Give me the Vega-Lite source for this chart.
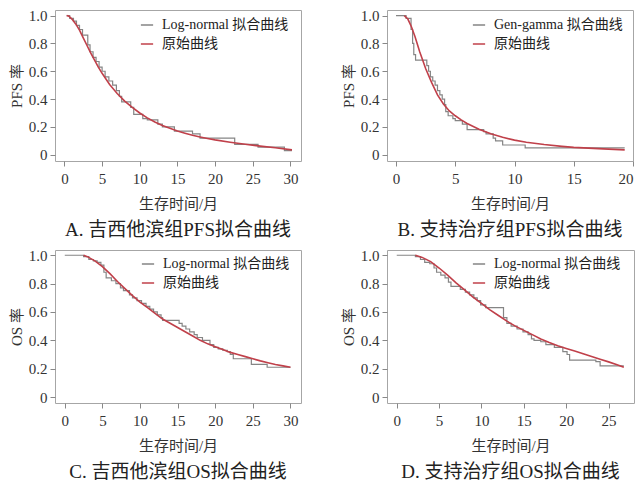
{
  "$schema": "https://vega.github.io/schema/vega-lite/v6.json",
  "padding": {"left": 8, "top": 8, "right": 2, "bottom": 2},
  "background": "white",
  "data": {"name": "d"},
  "datasets": {
    "d": [
      {"p":"A","g":"Log-normal 拟合曲线","t":0.3,"s":1.0},
      {"p":"A","g":"Log-normal 拟合曲线","t":0.7,"s":0.98},
      {"p":"A","g":"Log-normal 拟合曲线","t":1.2,"s":0.96},
      {"p":"A","g":"Log-normal 拟合曲线","t":1.6,"s":0.93},
      {"p":"A","g":"Log-normal 拟合曲线","t":2.0,"s":0.90},
      {"p":"A","g":"Log-normal 拟合曲线","t":2.4,"s":0.86},
      {"p":"A","g":"Log-normal 拟合曲线","t":3.1,"s":0.79},
      {"p":"A","g":"Log-normal 拟合曲线","t":3.4,"s":0.74},
      {"p":"A","g":"Log-normal 拟合曲线","t":3.8,"s":0.70},
      {"p":"A","g":"Log-normal 拟合曲线","t":4.2,"s":0.67},
      {"p":"A","g":"Log-normal 拟合曲线","t":4.6,"s":0.63},
      {"p":"A","g":"Log-normal 拟合曲线","t":5.0,"s":0.60},
      {"p":"A","g":"Log-normal 拟合曲线","t":5.4,"s":0.56},
      {"p":"A","g":"Log-normal 拟合曲线","t":5.9,"s":0.53},
      {"p":"A","g":"Log-normal 拟合曲线","t":6.4,"s":0.50},
      {"p":"A","g":"Log-normal 拟合曲线","t":6.9,"s":0.46},
      {"p":"A","g":"Log-normal 拟合曲线","t":7.3,"s":0.42},
      {"p":"A","g":"Log-normal 拟合曲线","t":7.6,"s":0.38},
      {"p":"A","g":"Log-normal 拟合曲线","t":8.8,"s":0.34},
      {"p":"A","g":"Log-normal 拟合曲线","t":9.2,"s":0.29},
      {"p":"A","g":"Log-normal 拟合曲线","t":10.4,"s":0.26},
      {"p":"A","g":"Log-normal 拟合曲线","t":11.0,"s":0.25},
      {"p":"A","g":"Log-normal 拟合曲线","t":12.4,"s":0.22},
      {"p":"A","g":"Log-normal 拟合曲线","t":13.0,"s":0.20},
      {"p":"A","g":"Log-normal 拟合曲线","t":14.6,"s":0.17},
      {"p":"A","g":"Log-normal 拟合曲线","t":17.0,"s":0.15},
      {"p":"A","g":"Log-normal 拟合曲线","t":18.0,"s":0.12},
      {"p":"A","g":"Log-normal 拟合曲线","t":22.6,"s":0.075},
      {"p":"A","g":"Log-normal 拟合曲线","t":25.7,"s":0.055},
      {"p":"A","g":"Log-normal 拟合曲线","t":29.2,"s":0.03},
      {"p":"A","g":"Log-normal 拟合曲线","t":30.2,"s":0.03},

      {"p":"A","g":"原始曲线","t":0.3,"s":1.0},
      {"p":"A","g":"原始曲线","t":0.6,"s":0.995},
      {"p":"A","g":"原始曲线","t":1.0,"s":0.975},
      {"p":"A","g":"原始曲线","t":1.5,"s":0.94},
      {"p":"A","g":"原始曲线","t":2.0,"s":0.895},
      {"p":"A","g":"原始曲线","t":2.5,"s":0.84},
      {"p":"A","g":"原始曲线","t":3.0,"s":0.785},
      {"p":"A","g":"原始曲线","t":3.5,"s":0.73},
      {"p":"A","g":"原始曲线","t":4.0,"s":0.68},
      {"p":"A","g":"原始曲线","t":4.5,"s":0.63},
      {"p":"A","g":"原始曲线","t":5.0,"s":0.585},
      {"p":"A","g":"原始曲线","t":6.0,"s":0.505},
      {"p":"A","g":"原始曲线","t":7.0,"s":0.44},
      {"p":"A","g":"原始曲线","t":8.0,"s":0.385},
      {"p":"A","g":"原始曲线","t":9.0,"s":0.34},
      {"p":"A","g":"原始曲线","t":10.0,"s":0.30},
      {"p":"A","g":"原始曲线","t":11.0,"s":0.265},
      {"p":"A","g":"原始曲线","t":12.0,"s":0.235},
      {"p":"A","g":"原始曲线","t":13.0,"s":0.21},
      {"p":"A","g":"原始曲线","t":14.0,"s":0.19},
      {"p":"A","g":"原始曲线","t":15.0,"s":0.17},
      {"p":"A","g":"原始曲线","t":16.0,"s":0.155},
      {"p":"A","g":"原始曲线","t":17.0,"s":0.14},
      {"p":"A","g":"原始曲线","t":18.0,"s":0.128},
      {"p":"A","g":"原始曲线","t":19.0,"s":0.117},
      {"p":"A","g":"原始曲线","t":20.0,"s":0.107},
      {"p":"A","g":"原始曲线","t":22.0,"s":0.09},
      {"p":"A","g":"原始曲线","t":24.0,"s":0.075},
      {"p":"A","g":"原始曲线","t":26.0,"s":0.062},
      {"p":"A","g":"原始曲线","t":28.0,"s":0.05},
      {"p":"A","g":"原始曲线","t":30.2,"s":0.035},

      {"p":"B","g":"Gen-gamma 拟合曲线","t":0,"s":1.0},
      {"p":"B","g":"Gen-gamma 拟合曲线","t":0.85,"s":0.98},
      {"p":"B","g":"Gen-gamma 拟合曲线","t":1.27,"s":0.90},
      {"p":"B","g":"Gen-gamma 拟合曲线","t":1.4,"s":0.80},
      {"p":"B","g":"Gen-gamma 拟合曲线","t":1.5,"s":0.72},
      {"p":"B","g":"Gen-gamma 拟合曲线","t":1.65,"s":0.68},
      {"p":"B","g":"Gen-gamma 拟合曲线","t":2.6,"s":0.64},
      {"p":"B","g":"Gen-gamma 拟合曲线","t":2.75,"s":0.60},
      {"p":"B","g":"Gen-gamma 拟合曲线","t":2.9,"s":0.56},
      {"p":"B","g":"Gen-gamma 拟合曲线","t":3.1,"s":0.53},
      {"p":"B","g":"Gen-gamma 拟合曲线","t":3.3,"s":0.50},
      {"p":"B","g":"Gen-gamma 拟合曲线","t":3.5,"s":0.46},
      {"p":"B","g":"Gen-gamma 拟合曲线","t":3.7,"s":0.43},
      {"p":"B","g":"Gen-gamma 拟合曲线","t":3.9,"s":0.40},
      {"p":"B","g":"Gen-gamma 拟合曲线","t":4.1,"s":0.36},
      {"p":"B","g":"Gen-gamma 拟合曲线","t":4.2,"s":0.31},
      {"p":"B","g":"Gen-gamma 拟合曲线","t":4.4,"s":0.28},
      {"p":"B","g":"Gen-gamma 拟合曲线","t":4.8,"s":0.26},
      {"p":"B","g":"Gen-gamma 拟合曲线","t":5.0,"s":0.245},
      {"p":"B","g":"Gen-gamma 拟合曲线","t":5.6,"s":0.22},
      {"p":"B","g":"Gen-gamma 拟合曲线","t":6.0,"s":0.18},
      {"p":"B","g":"Gen-gamma 拟合曲线","t":7.4,"s":0.165},
      {"p":"B","g":"Gen-gamma 拟合曲线","t":7.6,"s":0.15},
      {"p":"B","g":"Gen-gamma 拟合曲线","t":8.2,"s":0.12},
      {"p":"B","g":"Gen-gamma 拟合曲线","t":8.4,"s":0.10},
      {"p":"B","g":"Gen-gamma 拟合曲线","t":9.0,"s":0.07},
      {"p":"B","g":"Gen-gamma 拟合曲线","t":10.9,"s":0.05},
      {"p":"B","g":"Gen-gamma 拟合曲线","t":19.3,"s":0.05},

      {"p":"B","g":"原始曲线","t":0.7,"s":1.0},
      {"p":"B","g":"原始曲线","t":1.0,"s":0.975},
      {"p":"B","g":"原始曲线","t":1.3,"s":0.92},
      {"p":"B","g":"原始曲线","t":1.6,"s":0.85},
      {"p":"B","g":"原始曲线","t":2.0,"s":0.74},
      {"p":"B","g":"原始曲线","t":2.5,"s":0.62},
      {"p":"B","g":"原始曲线","t":3.0,"s":0.52},
      {"p":"B","g":"原始曲线","t":3.5,"s":0.43},
      {"p":"B","g":"原始曲线","t":4.0,"s":0.365},
      {"p":"B","g":"原始曲线","t":4.5,"s":0.315},
      {"p":"B","g":"原始曲线","t":5.0,"s":0.28},
      {"p":"B","g":"原始曲线","t":5.5,"s":0.25},
      {"p":"B","g":"原始曲线","t":6.0,"s":0.225},
      {"p":"B","g":"原始曲线","t":7.0,"s":0.183},
      {"p":"B","g":"原始曲线","t":8.0,"s":0.15},
      {"p":"B","g":"原始曲线","t":9.0,"s":0.125},
      {"p":"B","g":"原始曲线","t":10.0,"s":0.105},
      {"p":"B","g":"原始曲线","t":11.0,"s":0.09},
      {"p":"B","g":"原始曲线","t":12.5,"s":0.073},
      {"p":"B","g":"原始曲线","t":14.0,"s":0.06},
      {"p":"B","g":"原始曲线","t":15.0,"s":0.053},
      {"p":"B","g":"原始曲线","t":17.5,"s":0.042},
      {"p":"B","g":"原始曲线","t":19.3,"s":0.035},

      {"p":"C","g":"Log-normal 拟合曲线","t":0,"s":1.0},
      {"p":"C","g":"Log-normal 拟合曲线","t":2.5,"s":0.99},
      {"p":"C","g":"Log-normal 拟合曲线","t":3.2,"s":0.97},
      {"p":"C","g":"Log-normal 拟合曲线","t":3.8,"s":0.96},
      {"p":"C","g":"Log-normal 拟合曲线","t":4.3,"s":0.95},
      {"p":"C","g":"Log-normal 拟合曲线","t":4.8,"s":0.93},
      {"p":"C","g":"Log-normal 拟合曲线","t":5.2,"s":0.88},
      {"p":"C","g":"Log-normal 拟合曲线","t":5.5,"s":0.84},
      {"p":"C","g":"Log-normal 拟合曲线","t":6.2,"s":0.82},
      {"p":"C","g":"Log-normal 拟合曲线","t":6.8,"s":0.80},
      {"p":"C","g":"Log-normal 拟合曲线","t":7.4,"s":0.77},
      {"p":"C","g":"Log-normal 拟合曲线","t":7.8,"s":0.75},
      {"p":"C","g":"Log-normal 拟合曲线","t":8.6,"s":0.72},
      {"p":"C","g":"Log-normal 拟合曲线","t":9.0,"s":0.70},
      {"p":"C","g":"Log-normal 拟合曲线","t":9.6,"s":0.68},
      {"p":"C","g":"Log-normal 拟合曲线","t":10.2,"s":0.66},
      {"p":"C","g":"Log-normal 拟合曲线","t":10.8,"s":0.64},
      {"p":"C","g":"Log-normal 拟合曲线","t":11.3,"s":0.62},
      {"p":"C","g":"Log-normal 拟合曲线","t":11.8,"s":0.60},
      {"p":"C","g":"Log-normal 拟合曲线","t":12.3,"s":0.58},
      {"p":"C","g":"Log-normal 拟合曲线","t":12.8,"s":0.56},
      {"p":"C","g":"Log-normal 拟合曲线","t":13.0,"s":0.54},
      {"p":"C","g":"Log-normal 拟合曲线","t":15.2,"s":0.52},
      {"p":"C","g":"Log-normal 拟合曲线","t":15.6,"s":0.50},
      {"p":"C","g":"Log-normal 拟合曲线","t":16.1,"s":0.48},
      {"p":"C","g":"Log-normal 拟合曲线","t":16.6,"s":0.46},
      {"p":"C","g":"Log-normal 拟合曲线","t":17.2,"s":0.44},
      {"p":"C","g":"Log-normal 拟合曲线","t":17.6,"s":0.42},
      {"p":"C","g":"Log-normal 拟合曲线","t":18.3,"s":0.40},
      {"p":"C","g":"Log-normal 拟合曲线","t":19.3,"s":0.37},
      {"p":"C","g":"Log-normal 拟合曲线","t":19.8,"s":0.35},
      {"p":"C","g":"Log-normal 拟合曲线","t":20.4,"s":0.34},
      {"p":"C","g":"Log-normal 拟合曲线","t":21.0,"s":0.33},
      {"p":"C","g":"Log-normal 拟合曲线","t":21.6,"s":0.32},
      {"p":"C","g":"Log-normal 拟合曲线","t":22.0,"s":0.30},
      {"p":"C","g":"Log-normal 拟合曲线","t":22.4,"s":0.27},
      {"p":"C","g":"Log-normal 拟合曲线","t":24.8,"s":0.23},
      {"p":"C","g":"Log-normal 拟合曲线","t":26.9,"s":0.21},
      {"p":"C","g":"Log-normal 拟合曲线","t":30.0,"s":0.21},

      {"p":"C","g":"原始曲线","t":2.5,"s":1.0},
      {"p":"C","g":"原始曲线","t":3.0,"s":0.99},
      {"p":"C","g":"原始曲线","t":4.0,"s":0.96},
      {"p":"C","g":"原始曲线","t":5.0,"s":0.92},
      {"p":"C","g":"原始曲线","t":6.0,"s":0.87},
      {"p":"C","g":"原始曲线","t":7.0,"s":0.815},
      {"p":"C","g":"原始曲线","t":8.0,"s":0.765},
      {"p":"C","g":"原始曲线","t":9.0,"s":0.715},
      {"p":"C","g":"原始曲线","t":10.0,"s":0.67},
      {"p":"C","g":"原始曲线","t":11.0,"s":0.63},
      {"p":"C","g":"原始曲线","t":12.0,"s":0.59},
      {"p":"C","g":"原始曲线","t":13.0,"s":0.55},
      {"p":"C","g":"原始曲线","t":14.0,"s":0.52},
      {"p":"C","g":"原始曲线","t":15.0,"s":0.49},
      {"p":"C","g":"原始曲线","t":16.0,"s":0.46},
      {"p":"C","g":"原始曲线","t":17.0,"s":0.43},
      {"p":"C","g":"原始曲线","t":18.0,"s":0.40},
      {"p":"C","g":"原始曲线","t":19.0,"s":0.375},
      {"p":"C","g":"原始曲线","t":20.0,"s":0.355},
      {"p":"C","g":"原始曲线","t":21.0,"s":0.335},
      {"p":"C","g":"原始曲线","t":22.0,"s":0.315},
      {"p":"C","g":"原始曲线","t":23.0,"s":0.30},
      {"p":"C","g":"原始曲线","t":24.0,"s":0.285},
      {"p":"C","g":"原始曲线","t":25.0,"s":0.27},
      {"p":"C","g":"原始曲线","t":26.0,"s":0.255},
      {"p":"C","g":"原始曲线","t":27.0,"s":0.242},
      {"p":"C","g":"原始曲线","t":28.0,"s":0.23},
      {"p":"C","g":"原始曲线","t":29.0,"s":0.22},
      {"p":"C","g":"原始曲线","t":30.0,"s":0.21},

      {"p":"D","g":"Log-normal 拟合曲线","t":0,"s":1.0},
      {"p":"D","g":"Log-normal 拟合曲线","t":2.2,"s":0.99},
      {"p":"D","g":"Log-normal 拟合曲线","t":2.8,"s":0.97},
      {"p":"D","g":"Log-normal 拟合曲线","t":3.3,"s":0.95},
      {"p":"D","g":"Log-normal 拟合曲线","t":3.9,"s":0.94},
      {"p":"D","g":"Log-normal 拟合曲线","t":4.4,"s":0.91},
      {"p":"D","g":"Log-normal 拟合曲线","t":4.7,"s":0.88},
      {"p":"D","g":"Log-normal 拟合曲线","t":5.2,"s":0.86},
      {"p":"D","g":"Log-normal 拟合曲线","t":5.7,"s":0.84},
      {"p":"D","g":"Log-normal 拟合曲线","t":6.1,"s":0.81},
      {"p":"D","g":"Log-normal 拟合曲线","t":6.4,"s":0.78},
      {"p":"D","g":"Log-normal 拟合曲线","t":7.5,"s":0.76},
      {"p":"D","g":"Log-normal 拟合曲线","t":8.1,"s":0.74},
      {"p":"D","g":"Log-normal 拟合曲线","t":8.6,"s":0.72},
      {"p":"D","g":"Log-normal 拟合曲线","t":9.1,"s":0.70},
      {"p":"D","g":"Log-normal 拟合曲线","t":9.5,"s":0.68},
      {"p":"D","g":"Log-normal 拟合曲线","t":9.9,"s":0.65},
      {"p":"D","g":"Log-normal 拟合曲线","t":10.5,"s":0.63},
      {"p":"D","g":"Log-normal 拟合曲线","t":12.6,"s":0.56},
      {"p":"D","g":"Log-normal 拟合曲线","t":13.0,"s":0.52},
      {"p":"D","g":"Log-normal 拟合曲线","t":13.5,"s":0.50},
      {"p":"D","g":"Log-normal 拟合曲线","t":14.2,"s":0.48},
      {"p":"D","g":"Log-normal 拟合曲线","t":14.9,"s":0.46},
      {"p":"D","g":"Log-normal 拟合曲线","t":15.5,"s":0.44},
      {"p":"D","g":"Log-normal 拟合曲线","t":15.9,"s":0.41},
      {"p":"D","g":"Log-normal 拟合曲线","t":16.2,"s":0.40},
      {"p":"D","g":"Log-normal 拟合曲线","t":17.0,"s":0.39},
      {"p":"D","g":"Log-normal 拟合曲线","t":17.6,"s":0.37},
      {"p":"D","g":"Log-normal 拟合曲线","t":18.6,"s":0.35},
      {"p":"D","g":"Log-normal 拟合曲线","t":19.6,"s":0.32},
      {"p":"D","g":"Log-normal 拟合曲线","t":20.1,"s":0.30},
      {"p":"D","g":"Log-normal 拟合曲线","t":20.4,"s":0.26},
      {"p":"D","g":"Log-normal 拟合曲线","t":23.5,"s":0.25},
      {"p":"D","g":"Log-normal 拟合曲线","t":24.0,"s":0.22},
      {"p":"D","g":"Log-normal 拟合曲线","t":26.8,"s":0.22},

      {"p":"D","g":"原始曲线","t":2.2,"s":1.0},
      {"p":"D","g":"原始曲线","t":3.0,"s":0.985},
      {"p":"D","g":"原始曲线","t":4.0,"s":0.955},
      {"p":"D","g":"原始曲线","t":5.0,"s":0.91},
      {"p":"D","g":"原始曲线","t":6.0,"s":0.86},
      {"p":"D","g":"原始曲线","t":7.0,"s":0.805},
      {"p":"D","g":"原始曲线","t":8.0,"s":0.755},
      {"p":"D","g":"原始曲线","t":9.0,"s":0.705},
      {"p":"D","g":"原始曲线","t":10.0,"s":0.66},
      {"p":"D","g":"原始曲线","t":11.0,"s":0.615},
      {"p":"D","g":"原始曲线","t":12.0,"s":0.575},
      {"p":"D","g":"原始曲线","t":13.0,"s":0.535},
      {"p":"D","g":"原始曲线","t":14.0,"s":0.50},
      {"p":"D","g":"原始曲线","t":15.0,"s":0.47},
      {"p":"D","g":"原始曲线","t":16.0,"s":0.44},
      {"p":"D","g":"原始曲线","t":17.0,"s":0.41},
      {"p":"D","g":"原始曲线","t":18.0,"s":0.385},
      {"p":"D","g":"原始曲线","t":19.0,"s":0.362},
      {"p":"D","g":"原始曲线","t":20.0,"s":0.343},
      {"p":"D","g":"原始曲线","t":21.0,"s":0.325},
      {"p":"D","g":"原始曲线","t":22.0,"s":0.305},
      {"p":"D","g":"原始曲线","t":23.0,"s":0.286},
      {"p":"D","g":"原始曲线","t":24.0,"s":0.267},
      {"p":"D","g":"原始曲线","t":25.0,"s":0.248},
      {"p":"D","g":"原始曲线","t":26.0,"s":0.228},
      {"p":"D","g":"原始曲线","t":26.8,"s":0.21}
    ]
  },
  "columns": 2,
  "spacing": {"row": 6, "column": 38},
  "resolve": {"scale": {"color": "independent", "x": "independent", "y": "independent"}, "legend": {"color": "independent"}},
  "concat": [
    {
      "width": 246, "height": 151,
      "title": {"text": "A. 吉西他滨组PFS拟合曲线", "orient": "bottom", "offset": 10},
      "transform": [{"filter": "datum.p === 'A'"}],
      "encoding": {
        "x": {"field": "t", "type": "quantitative", "scale": {"domain": [-1.25, 31.4], "nice": false, "zero": false}, "axis": {"values": [0, 5, 10, 15, 20, 25, 30], "title": "生存时间/月"}},
        "y": {"field": "s", "type": "quantitative", "scale": {"domain": [-0.045, 1.04], "nice": false, "zero": false}, "axis": {"values": [0, 0.2, 0.4, 0.6, 0.8, 1], "title": "PFS 率", "labelExpr": "datum.value === 0 ? '0' : format(datum.value, '.1f')"}},
        "color": {"field": "g", "type": "nominal", "scale": {"domain": ["Log-normal 拟合曲线", "原始曲线"], "range": ["#858585", "#c0404a"]},
          "legend": {"orient": "none", "legendX": 85, "legendY": 8, "title": null, "encode": {"symbols": {"update": {"stroke": {"signal": "datum.value === '原始曲线' ? '#c0404a' : '#333333'"}}}}}}
      },
      "layer": [
        {"transform": [{"filter": "datum.g !== '原始曲线'"}], "mark": {"type": "line", "interpolate": "step-after", "strokeWidth": 1.2}},
        {"transform": [{"filter": "datum.g === '原始曲线'"}], "mark": {"type": "line", "strokeWidth": 1.6}}
      ]
    },
    {
      "width": 246, "height": 151,
      "title": {"text": "B. 支持治疗组PFS拟合曲线", "orient": "bottom", "offset": 10},
      "transform": [{"filter": "datum.p === 'B'"}],
      "encoding": {
        "x": {"field": "t", "type": "quantitative", "scale": {"domain": [-0.76, 20.0], "nice": false, "zero": false}, "axis": {"values": [0, 5, 10, 15, 20], "title": "生存时间/月"}},
        "y": {"field": "s", "type": "quantitative", "scale": {"domain": [-0.045, 1.04], "nice": false, "zero": false}, "axis": {"values": [0, 0.2, 0.4, 0.6, 0.8, 1], "title": "PFS 率", "labelExpr": "datum.value === 0 ? '0' : format(datum.value, '.1f')"}},
        "color": {"field": "g", "type": "nominal", "scale": {"domain": ["Gen-gamma 拟合曲线", "原始曲线"], "range": ["#858585", "#c0404a"]},
          "legend": {"orient": "none", "legendX": 85, "legendY": 8, "title": null, "encode": {"symbols": {"update": {"stroke": {"signal": "datum.value === '原始曲线' ? '#c0404a' : '#333333'"}}}}}}
      },
      "layer": [
        {"transform": [{"filter": "datum.g !== '原始曲线'"}], "mark": {"type": "line", "interpolate": "step-after", "strokeWidth": 1.2}},
        {"transform": [{"filter": "datum.g === '原始曲线'"}], "mark": {"type": "line", "strokeWidth": 1.6}}
      ]
    },
    {
      "width": 246, "height": 153,
      "title": {"text": "C. 吉西他滨组OS拟合曲线", "orient": "bottom", "offset": 10},
      "transform": [{"filter": "datum.p === 'C'"}],
      "encoding": {
        "x": {"field": "t", "type": "quantitative", "scale": {"domain": [-1.3, 31.4], "nice": false, "zero": false}, "axis": {"values": [0, 5, 10, 15, 20, 25, 30], "title": "生存时间/月"}},
        "y": {"field": "s", "type": "quantitative", "scale": {"domain": [-0.042, 1.037], "nice": false, "zero": false}, "axis": {"values": [0, 0.2, 0.4, 0.6, 0.8, 1], "title": "OS 率", "labelExpr": "datum.value === 0 ? '0' : format(datum.value, '.1f')"}},
        "color": {"field": "g", "type": "nominal", "scale": {"domain": ["Log-normal 拟合曲线", "原始曲线"], "range": ["#858585", "#c0404a"]},
          "legend": {"orient": "none", "legendX": 86, "legendY": 7, "title": null, "encode": {"symbols": {"update": {"stroke": {"signal": "datum.value === '原始曲线' ? '#c0404a' : '#333333'"}}}}}}
      },
      "layer": [
        {"transform": [{"filter": "datum.g !== '原始曲线'"}], "mark": {"type": "line", "interpolate": "step-after", "strokeWidth": 1.2}},
        {"transform": [{"filter": "datum.g === '原始曲线'"}], "mark": {"type": "line", "strokeWidth": 1.6}}
      ]
    },
    {
      "width": 247, "height": 153,
      "title": {"text": "D. 支持治疗组OS拟合曲线", "orient": "bottom", "offset": 10},
      "transform": [{"filter": "datum.p === 'D'"}],
      "encoding": {
        "x": {"field": "t", "type": "quantitative", "scale": {"domain": [-1.15, 28.0], "nice": false, "zero": false}, "axis": {"values": [0, 5, 10, 15, 20, 25], "title": "生存时间/月"}},
        "y": {"field": "s", "type": "quantitative", "scale": {"domain": [-0.042, 1.037], "nice": false, "zero": false}, "axis": {"values": [0, 0.2, 0.4, 0.6, 0.8, 1], "title": "OS 率", "labelExpr": "datum.value === 0 ? '0' : format(datum.value, '.1f')"}},
        "color": {"field": "g", "type": "nominal", "scale": {"domain": ["Log-normal 拟合曲线", "原始曲线"], "range": ["#858585", "#c0404a"]},
          "legend": {"orient": "none", "legendX": 85, "legendY": 7, "title": null, "encode": {"symbols": {"update": {"stroke": {"signal": "datum.value === '原始曲线' ? '#c0404a' : '#333333'"}}}}}}
      },
      "layer": [
        {"transform": [{"filter": "datum.g !== '原始曲线'"}], "mark": {"type": "line", "interpolate": "step-after", "strokeWidth": 1.2}},
        {"transform": [{"filter": "datum.g === '原始曲线'"}], "mark": {"type": "line", "strokeWidth": 1.6}}
      ]
    }
  ],
  "config": {
    "font": "Liberation Serif, Noto Sans CJK SC",
    "view": {"stroke": "#a6a6a6", "strokeWidth": 1},
    "axis": {"domain": false, "grid": false, "tickColor": "#888888", "tickSize": 5, "labelFontSize": 15, "labelColor": "#333333", "titleFontSize": 15, "titleFontWeight": "normal", "titleColor": "#333333", "labelPadding": 5},
    "axisY": {"titlePadding": 4, "labelPadding": 3},
    "axisX": {"titlePadding": 10},
    "title": {"fontSize": 19, "fontWeight": "normal", "color": "#222222", "anchor": "middle"},
    "legend": {"symbolType": "stroke", "symbolSize": 150, "symbolStrokeWidth": 1.5, "labelFontSize": 14, "labelColor": "#222222", "rowPadding": 5, "labelOffset": 8}
  }
}
